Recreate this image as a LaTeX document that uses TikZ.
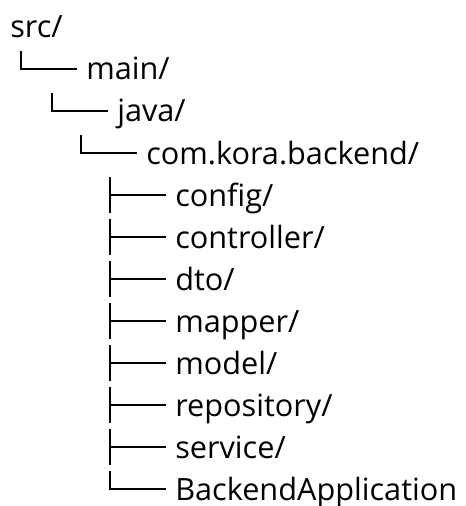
\documentclass[tikz,border=0pt]{standalone}
\usepackage{fontspec}
\setmainfont{Open Sans}
\tikzset{
    entry/.style={
        anchor=base west,
        inner sep=0pt,
        font=\fontsize{23}{27}\selectfont
    },
    branch/.style={
        line width=1.9pt
    }
}

\begin{document}
\begin{tikzpicture}[x=0.75pt, y=-0.75pt]
\useasboundingbox (0,0) rectangle (466,506);

% folders
\node[entry] (src) at (10,38) {src/};
\node[entry] (main) at (86,80) {main/};
\node[entry] (java) at (117,122) {java/};
\node[entry] (pkg) at (146,164) {com.kora.backend/};
\node[entry] (config) at (175,206) {config/};
\node[entry] (controller) at (175,248) {controller/};
\node[entry] (dto) at (175,290) {dto/};
\node[entry] (mapper) at (175,332) {mapper/};
\node[entry] (model) at (175,374) {model/};
\node[entry] (repository) at (175,416) {repository/};
\node[entry] (service) at (175,458) {service/};
\node[entry] (app) at (175,500) {BackendApplication};

% last children
\draw[branch] ([shift={(-9,-11)}]main.base west) -- ++(-56,0) -- ++(0,-18);
\draw[branch] ([shift={(-9,-11)}]java.base west) -- ++(-56,0) -- ++(0,-18);
\draw[branch] ([shift={(-9,-11)}]pkg.base west) -- ++(-56,0) -- ++(0,-18);
\draw[branch] ([shift={(-9,-11)}]app.base west) -- ++(-56,0) -- ++(0,-18);

% inner children
\draw[branch] ([shift={(-9,-11)}]config.base west) -- ++(-56,0) ++(0,-18) -- ++(0,36);
\draw[branch] ([shift={(-9,-11)}]controller.base west) -- ++(-56,0) ++(0,-18) -- ++(0,36);
\draw[branch] ([shift={(-9,-11)}]dto.base west) -- ++(-56,0) ++(0,-18) -- ++(0,36);
\draw[branch] ([shift={(-9,-11)}]mapper.base west) -- ++(-56,0) ++(0,-18) -- ++(0,36);
\draw[branch] ([shift={(-9,-11)}]model.base west) -- ++(-56,0) ++(0,-18) -- ++(0,36);
\draw[branch] ([shift={(-9,-11)}]repository.base west) -- ++(-56,0) ++(0,-18) -- ++(0,36);
\draw[branch] ([shift={(-9,-11)}]service.base west) -- ++(-56,0) ++(0,-18) -- ++(0,36);
\end{tikzpicture}
\end{document}
